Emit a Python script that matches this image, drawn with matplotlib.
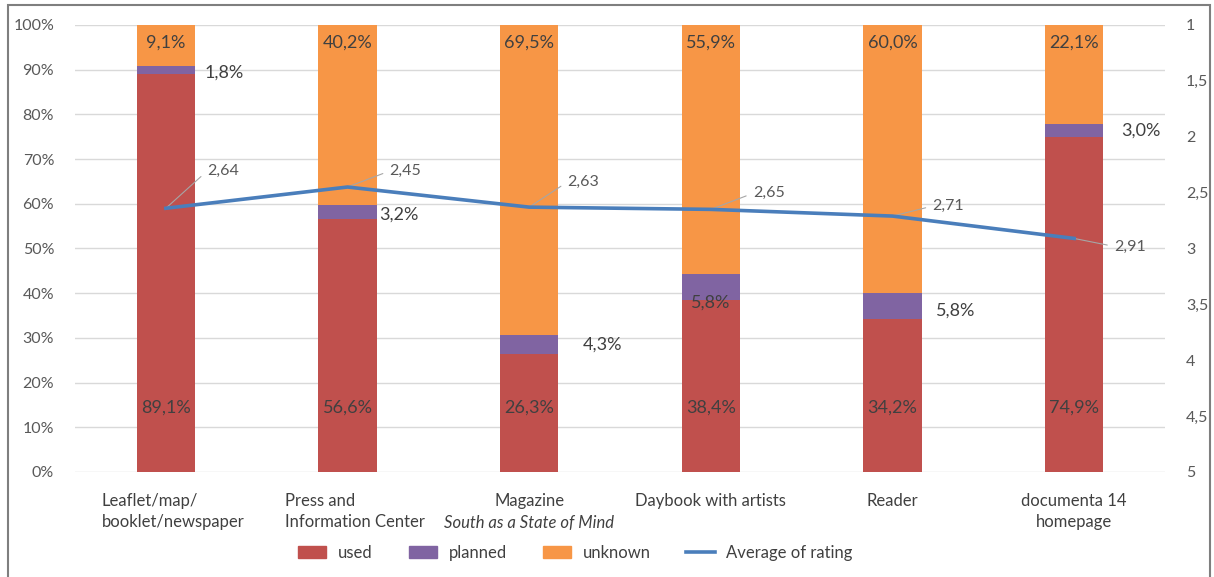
import matplotlib.pyplot as plt
import matplotlib.patches as mpatches
from matplotlib.lines import Line2D
import numpy as np

plt.rcParams['font.family'] = ['Lato', 'DejaVu Sans']

CATEGORIES = ["Leaflet/map/\nbooklet/newspaper", "Press and\nInformation Center", "Magazine",
              "Daybook with artists", "Reader", "documenta 14\nhomepage"]
USED = [89.1, 56.6, 26.3, 38.4, 34.2, 74.9]
PLANNED = [1.8, 3.2, 4.3, 5.8, 5.8, 3.0]
UNKNOWN = [9.1, 40.2, 69.5, 55.9, 60.0, 22.1]
RATING = [2.64, 2.45, 2.63, 2.65, 2.71, 2.91]
RATING_TICKS = [1, 1.5, 2, 2.5, 3, 3.5, 4, 4.5, 5]

C_USED = "#C0504D"
C_PLANNED = "#8064A2"
C_UNKNOWN = "#F79646"
C_LINE = "#4A7EBB"
TXT = "#404040"
GRAY = "#595959"


def pct(v):
    return f"{v:.1f}%".replace(".", ",")


def num(v):
    return f"{v:g}".replace(".", ",")


fig = plt.figure(figsize=(12.14, 5.77), dpi=100)
ax = fig.add_axes([0.0618, 0.182, 0.8978, 0.7747])
x = np.arange(len(CATEGORIES))
w = 0.32

used = np.array(USED)
planned = np.array(PLANNED)
unknown = np.array(UNKNOWN)
ax.bar(x, used, w, color=C_USED, zorder=2)
ax.bar(x, planned, w, bottom=used, color=C_PLANNED, zorder=2)
ax.bar(x, unknown, w, bottom=used + planned, color=C_UNKNOWN, zorder=2)

ax.set_xlim(-0.5, 5.5)
ax.set_ylim(0, 100)
ax.set_yticks(np.arange(0, 101, 10))
ax.set_yticklabels([f"{v}%" for v in range(0, 101, 10)])
ax.tick_params(axis="y", length=0, pad=15, labelsize=11.5, labelcolor=GRAY)
ax.set_xticks([])
ax.grid(axis="y", color="#D9D9D9", linewidth=1, zorder=0)
for s in ax.spines.values():
    s.set_visible(False)

# value labels: used near the base, unknown near the top
for i in range(len(x)):
    ax.text(x[i], 14.5, pct(USED[i]), ha="center", va="center", fontsize=13, color=TXT, zorder=4)
    ax.text(x[i], 96, pct(UNKNOWN[i]), ha="center", va="center", fontsize=13, color=TXT, zorder=4)

# planned labels sit beside the bar (one lands inside)
planned_off = [(10, -3), (3, -3), (25, 0), (None, -15), (14, -4), (18, 0)]
for i, (dx, dy) in enumerate(planned_off):
    yc = USED[i] + PLANNED[i] / 2
    if dx is None:
        ax.annotate(pct(PLANNED[i]), (x[i], yc), xytext=(0, dy), textcoords="offset pixels",
                    ha="center", va="center", fontsize=13, color=TXT, zorder=4)
    else:
        ax.annotate(pct(PLANNED[i]), (x[i] + w / 2, yc), xytext=(dx, dy), textcoords="offset pixels",
                    ha="left", va="center", fontsize=13, color=TXT, zorder=4)

# category labels
lab_y = -0.046
for i, c in enumerate(CATEGORIES):
    left = i < 2
    ax.text(x[i] + (0.04 if left else 0), lab_y, c, transform=ax.get_xaxis_transform(),
            ha="center", va="top", multialignment="left" if left else "center",
            fontsize=12, color=TXT, linespacing=1.45)
ax.text(x[2], lab_y - 0.05, "South as a State of Mind", transform=ax.get_xaxis_transform(),
        ha="center", va="top", fontsize=12, color=TXT, style="italic")

# rating on the secondary axis (1 at top)
ax2 = ax.twinx()
ax2.set_ylim(5, 1)
ax2.set_yticks(RATING_TICKS)
ax2.set_yticklabels([num(v) for v in RATING_TICKS])
ax2.tick_params(axis="y", length=0, pad=15, labelsize=11.5, labelcolor=GRAY)
for s in ax2.spines.values():
    s.set_visible(False)
ax2.plot(x, RATING, color=C_LINE, linewidth=2.6, zorder=5)

rating_off = [(41, 37), (42, 16), (38, 25), (42, 16), (40, 10), (40, -8)]
for i, (dx, dy) in enumerate(rating_off):
    ax2.annotate(num(RATING[i]), (x[i], RATING[i]), xytext=(dx, dy), textcoords="offset pixels",
                 ha="left", va="center", fontsize=11.5, color=GRAY,
                 arrowprops=dict(arrowstyle="-", color="#A6A6A6", linewidth=0.8,
                                 shrinkA=3, shrinkB=0, relpos=(0, 0.5)))

handles = [mpatches.Patch(color=C_USED, label="used"),
           mpatches.Patch(color=C_PLANNED, label="planned"),
           mpatches.Patch(color=C_UNKNOWN, label="unknown"),
           Line2D([], [], color=C_LINE, linewidth=2.6, label="Average of rating")]
fig.legend(handles=handles, loc="center", bbox_to_anchor=(0.474, 1 - 553 / 577), ncol=4,
           frameon=False, fontsize=12, handlelength=1.7, handleheight=0.7,
           handletextpad=0.7, columnspacing=2.15, labelcolor=TXT)

# outer frame
fig.patches.append(mpatches.Rectangle((8 / 1214, -0.05), 1202 / 1214, 1.05 - 5 / 577,
                                      transform=fig.transFigure, fill=False,
                                      edgecolor="#7F7F7F", linewidth=1.5))

fig.savefig("out.png", dpi=100)
